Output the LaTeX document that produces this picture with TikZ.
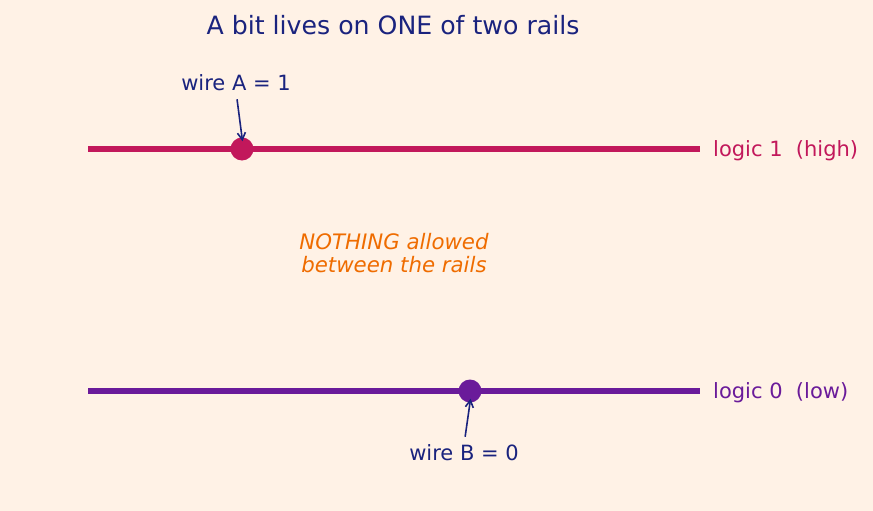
\documentclass[tikz,border=0pt]{standalone}
\usepackage{fontspec}
\setmainfont{DejaVu Sans}
\usepackage{tikz}
\usetikzlibrary{arrows.meta, positioning}

\definecolor{bgcream}{HTML}{FFF2E6}
\definecolor{railhigh}{HTML}{C2185B}
\definecolor{raillow}{HTML}{6A1B9A}
\definecolor{inknavy}{HTML}{1A237E}
\definecolor{warnorange}{HTML}{EF6C00}

\begin{document}
\begin{tikzpicture}[
    x=1pt, y=-1pt,
    rail/.style={line width=5.5pt},
    bit/.style={circle, inner sep=0pt, minimum size=23pt},
    label/.style={font=\fontsize{21}{24}\selectfont, inner sep=0pt},
    pointer/.style={-{Straight Barb[length=7pt, width=8pt]}, inknavy, line width=1.6pt, shorten >=-4pt, shorten <=8pt}
]

% background
\fill[bgcream] (0,0) rectangle (873,511);
\useasboundingbox (0,0) rectangle (873,511);

% title
\node[font=\fontsize{25.2}{30}\selectfont, text=inknavy] (title) at (393,25) {A bit lives on ONE of two rails};

% logic 1 rail
\coordinate (high0) at (88,149);
\coordinate (high1) at (700,149);
\draw[rail, railhigh] (high0) -- (high1);
\node[label, text=railhigh, anchor=west, right=13pt of high1, yshift=-2pt] (highlbl) {logic 1\ \ (high)};

% logic 0 rail
\coordinate (low0) at (88,391);
\coordinate (low1) at (700,391);
\draw[rail, raillow] (low0) -- (low1);
\node[label, text=raillow, anchor=west, right=13pt of low1, yshift=-2pt] (lowlbl) {logic 0\ \ (low)};

% the two bits
\node[bit, fill=railhigh] (bitA) at (242,149) {};
\node[bit, fill=raillow] (bitB) at (470,391) {};

% pointers
\node[label, text=inknavy] (wireA) at (236,83) {wire A = 1};
\node[label, text=inknavy] (wireB) at (464,453) {wire B = 0};
\draw[pointer] (wireA.south) -- (bitA.north);
\draw[pointer] (wireB.north) -- (bitB.south);

% middle note
\node[label, text=warnorange, font=\fontsize{21.3}{23.5}\selectfont\itshape, align=center] (gap) at (394,253) {NOTHING allowed\\between the rails};

\end{tikzpicture}
\end{document}
